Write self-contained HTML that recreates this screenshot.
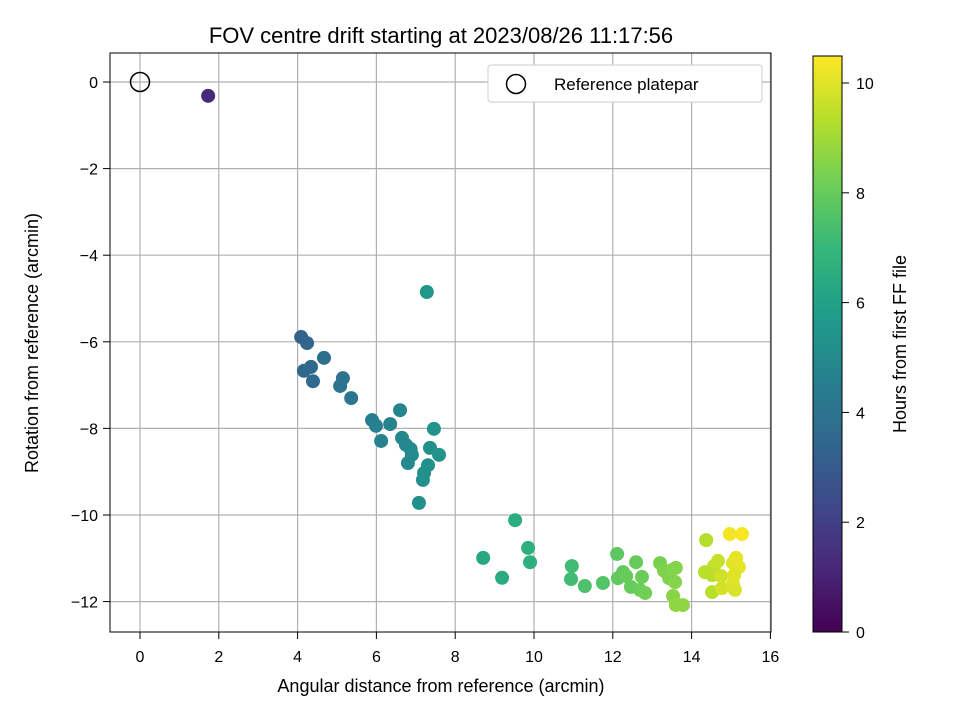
<!DOCTYPE html>
<html><head><meta charset="utf-8"><style>body{margin:0;background:#fff}svg{display:block;font-family:"Liberation Sans","DejaVu Sans",sans-serif}</style></head>
<body>
<svg id="c" width="960" height="720" viewBox="0 0 960 720">
<defs><linearGradient id="vir" x1="0" y1="1" x2="0" y2="0"></linearGradient></defs>
<text x="441" y="43" font-size="22" text-anchor="middle">FOV centre drift starting at 2023/08/26 11:17:56</text>
<g id="grid"></g><g id="pts"></g>
<rect x="110" y="53" width="661" height="579" fill="none" stroke="#000" stroke-width="1"/>
<g id="ticks"></g>
<text x="441" y="692" font-size="18" text-anchor="middle">Angular distance from reference (arcmin)</text>
<text transform="translate(38,343) rotate(-90)" font-size="18" text-anchor="middle">Rotation from reference (arcmin)</text>
<g>
<rect x="488" y="65" width="274" height="37" rx="3" fill="#fff" stroke="#ccc"/>
<circle cx="516" cy="84" r="9.5" fill="none" stroke="#000" stroke-width="1.5"/>
<text x="554" y="90" font-size="17">Reference platepar</text></g>
<rect x="813" y="56" width="29" height="576" fill="url(#vir)" stroke="#000"/>
<g id="cbt"></g>
<text transform="translate(906,344) rotate(-90)" font-size="18" text-anchor="middle">Hours from first FF file</text>
</svg>
<script>
const xs=[1.73,4.09,4.24,4.16,4.34,4.39,4.67,5.08,5.15,5.36,5.89,5.99,6.12,6.35,6.60,6.65,6.75,6.87,6.80,6.90,7.28,7.46,7.36,7.59,7.31,7.21,7.18,7.08,8.71,9.19,9.52,9.85,9.90,10.96,10.94,11.29,11.75,12.11,12.26,12.13,12.34,12.46,12.59,12.69,12.74,12.82,13.2,13.3,13.43,13.5,13.58,13.53,13.6,13.78,13.6,14.37,14.34,14.52,14.57,14.52,14.67,14.75,14.77,15.05,15.05,15.13,15.2,15.08,15.1,14.97,15.28];
const ys=[-0.32,-5.89,-6.03,-6.67,-6.58,-6.91,-6.37,-7.02,-6.84,-7.30,-7.81,-7.94,-8.29,-7.90,-7.58,-8.22,-8.38,-8.48,-8.80,-8.61,-4.85,-8.01,-8.45,-8.61,-8.85,-9.03,-9.19,-9.72,-10.99,-11.45,-10.12,-10.76,-11.09,-11.18,-11.48,-11.64,-11.57,-10.90,-11.32,-11.46,-11.41,-11.66,-11.09,-11.73,-11.43,-11.80,-11.11,-11.29,-11.46,-11.27,-11.55,-11.87,-12.08,-12.08,-11.22,-10.58,-11.32,-11.39,-11.18,-11.78,-11.06,-11.41,-11.69,-11.59,-11.11,-10.99,-11.20,-11.39,-11.73,-10.44,-10.44];
const hrs=[1.2,3.3,3.4,3.5,3.5,3.6,3.8,4.0,4.0,4.1,4.5,4.6,4.6,4.7,4.8,4.9,4.9,5.0,5.0,5.0,5.5,5.4,5.3,5.4,5.3,5.3,5.3,5.3,6.3,6.4,6.5,6.6,6.6,7.2,7.2,7.5,7.6,7.8,7.9,7.9,8.0,8.0,8.0,8.1,8.1,8.2,8.3,8.4,8.4,8.5,8.5,8.6,8.7,8.7,8.5,9.3,9.4,9.4,9.5,9.4,9.6,9.7,9.8,10.0,10.0,10.1,10.1,10.0,9.9,10.3,10.4];
const xTicks=[0,2,4,6,8,10,12,14,16];
const yTicks=[0,-2,-4,-6,-8,-10,-12];
const cTicks=[0,2,4,6,8,10];
const X=v=>140+v*39.4, Y=v=>82-v*43.3, C=v=>632-v*54.9;
const stops=[[68,1,84],[72,40,120],[62,73,137],[49,104,142],[38,130,142],[31,158,137],[53,183,121],[110,206,88],[181,222,43],[253,231,37]];
function vir(t){t=Math.max(0,Math.min(1,t))*(stops.length-1);const i=Math.min(Math.floor(t),stops.length-2),f=t-i;const a=stops[i],b=stops[i+1];return `rgb(${a.map((v,k)=>Math.round(v+(b[k]-v)*f)).join(',')})`;}
const NS='http://www.w3.org/2000/svg';
const g=document.getElementById('vir');
stops.forEach((s,i)=>{const st=document.createElementNS(NS,'stop');st.setAttribute('offset',i/(stops.length-1));st.setAttribute('stop-color',`rgb(${s.join(',')})`);g.appendChild(st);});
function mk(p,tag,at){const e=document.createElementNS(NS,tag);for(const k in at)e.setAttribute(k,at[k]);document.getElementById(p).appendChild(e);return e;}
xTicks.forEach(t=>{
 const l=mk('grid','line',{x1:X(t),x2:X(t),y1:53,y2:632,stroke:'#b0b0b0','stroke-width':1.2});
 
 
 mk('ticks','line',{x1:X(t),x2:X(t),y1:632,y2:639,stroke:'#000'});
 const tx=mk('ticks','text',{x:X(t),y:662,'font-size':16,'text-anchor':'middle'});tx.textContent=t;
 
 
});
yTicks.forEach(t=>{
 const l=mk('grid','line',{x1:110,x2:771,y1:Y(t),y2:Y(t),stroke:'#b0b0b0','stroke-width':1.2});
 
 
 mk('ticks','line',{x1:103,x2:110,y1:Y(t),y2:Y(t),stroke:'#000'});
 const tx=mk('ticks','text',{x:98,y:Y(t)+6,'font-size':16,'text-anchor':'end'});tx.textContent=t===0?'0':'\u2212'+Math.abs(t);
 
 
});
cTicks.forEach(t=>{
 mk('cbt','line',{x1:842,x2:849,y1:C(t),y2:C(t),stroke:'#000'});
 const tx=mk('cbt','text',{x:856,y:C(t)+6,'font-size':16});tx.textContent=t;
 
 
});
xs.forEach((x,i)=>{
 const c=mk('pts','circle',{cx:X(x),cy:Y(ys[i]),r:7,fill:vir(hrs[i]/10.48)});
 
 
});
const r=mk('pts','circle',{cx:X(0),cy:Y(0),r:9.5,fill:'none',stroke:'#000','stroke-width':1.5});


</script>
</body></html>
